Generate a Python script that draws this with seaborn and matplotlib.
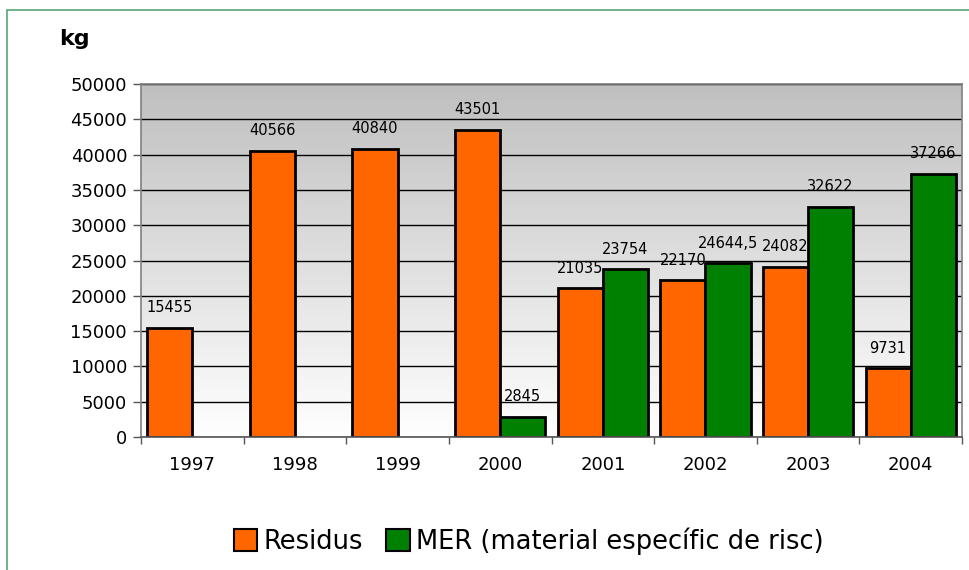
import numpy as np
import pandas as pd
import matplotlib
matplotlib.use("Agg")
import matplotlib.pyplot as plt
import seaborn as sns
from matplotlib.patches import Patch, Rectangle

years = ['1997', '1998', '1999', '2000', '2001', '2002', '2003', '2004']
residus = [15455, 40566, 40840, 43501, 21035, 22170, 24082, 9731]
mer = [np.nan, np.nan, np.nan, 2845, 23754, 24644.5, 32622, 37266]
series = ['Residus', 'MER (material específic de risc)']
colors = ['#FF6600', '#008000']
yticks = [0, 5000, 10000, 15000, 20000, 25000, 30000, 35000, 40000, 45000, 50000]

df = pd.DataFrame({
    'year': years * 2,
    'serie': [series[0]] * len(years) + [series[1]] * len(years),
    'kg': residus + mer,
})

sns.set_theme(style='white')
plt.rcParams['font.family'] = ['DejaVu Sans']
plt.rcParams['text.color'] = 'black'
plt.rcParams['xtick.color'] = 'black'
plt.rcParams['ytick.color'] = 'black'
plt.rcParams['axes.labelcolor'] = 'black'

fig = plt.figure(figsize=(9.7, 5.7), dpi=100)
ax = fig.add_axes([141/970, 1-437/570, (962-141)/970, (437-84)/570])

# gradient background
grad = np.linspace(0, 1, 256).reshape(-1, 1)
top = np.array([0.75, 0.75, 0.75])
bot = np.array([1.0, 1.0, 1.0])
img = top[None, None, :] * (1 - grad[:, :, None]) + bot[None, None, :] * grad[:, :, None]
ax.imshow(img, extent=[0, 1, 0, 1], transform=ax.transAxes, aspect='auto', zorder=0)

sns.barplot(data=df, x='year', y='kg', hue='serie', hue_order=series, order=years,
            palette=colors, width=0.88, gap=0, edgecolor='black', linewidth=2,
            saturation=1, errorbar=None, ax=ax, legend=False, zorder=2)

for c in ax.containers:
    ax.bar_label(c, fmt=lambda v: f"{v:g}".replace('.', ','), padding=9,
                 fontsize=10.5, color='black', zorder=4)

ax.set_xlim(-0.5, len(years) - 0.5)
ax.set_ylim(0, 50000)
ax.set_yticks(yticks)
ax.set_yticklabels([str(t) for t in yticks], fontsize=13)
ax.yaxis.grid(True, color='black', linewidth=1, zorder=1)
ax.set_axisbelow(True)
for gl in ax.get_ygridlines():
    gl.set_zorder(1)
ax.set_xlabel('')
ax.set_ylabel('')
ax.set_xticks(range(len(years)))
ax.set_xticklabels(years, fontsize=13)
ax.set_xticks(np.arange(-0.5, len(years), 1.0), minor=True)
ax.tick_params(axis='x', which='major', length=0, pad=14, labelcolor='black')
ax.tick_params(axis='x', which='minor', length=5, color='#555555', width=1, bottom=True)
ax.tick_params(axis='y', which='major', length=6, color='#555555', width=1, left=True, pad=4,
               labelcolor='black')
for s in ['left', 'top', 'right']:
    ax.spines[s].set_color('#808080')
    ax.spines[s].set_linewidth(1.2)
ax.spines['bottom'].set_color('#555555')
ax.spines['bottom'].set_linewidth(1.2)

fig.text(59/970, 1-39/570, 'kg', fontsize=16, fontweight='bold', va='center', ha='left',
         color='black')

handles = [Patch(facecolor=colors[i], edgecolor='black', linewidth=1.5, label=series[i]) for i in range(2)]
fig.legend(handles=handles, loc='center', bbox_to_anchor=(529/970, 1-541/570), ncol=2,
           frameon=False, fontsize=18.5, handlelength=0.9, handleheight=0.9,
           handletextpad=0.25, columnspacing=0.9, labelcolor='black')

fig.patches.append(Rectangle((7/970, -0.1), 1.2, (1-10/570) + 0.1, transform=fig.transFigure,
                             fill=False, edgecolor='#5aa37a', linewidth=1.2, zorder=-1))

fig.savefig('out.png', dpi=100)
